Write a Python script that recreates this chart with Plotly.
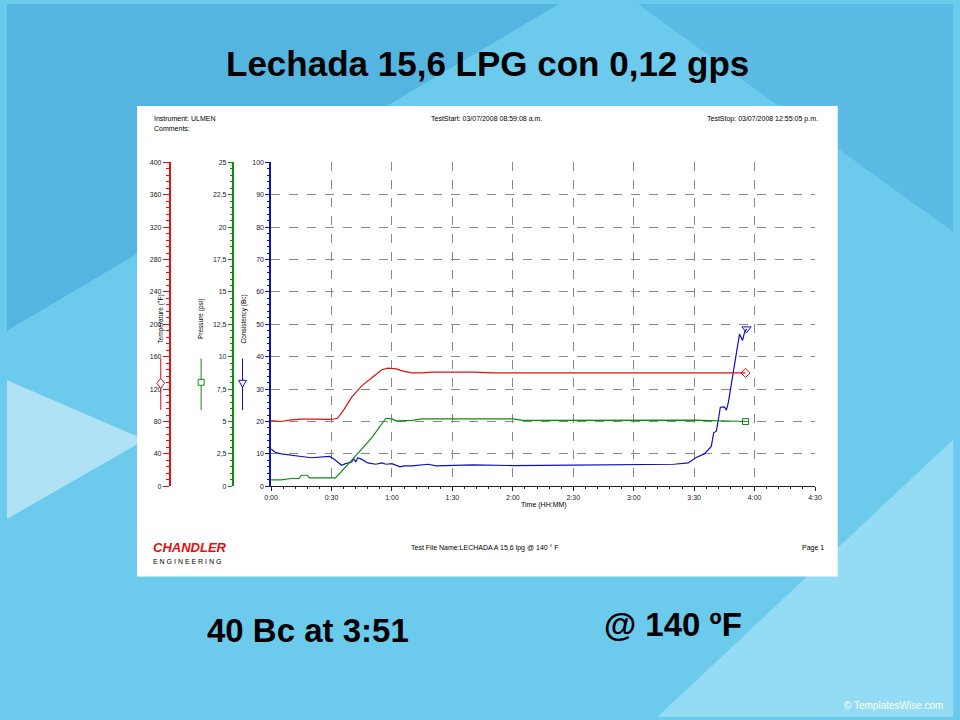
import plotly.graph_objects as go

# time in minutes
temp_t = [0, 5, 10, 15, 20, 25, 30, 33, 36, 40, 45, 50, 55, 58, 62, 66, 70, 75, 80, 90, 100, 110, 150, 200, 230, 235.5]
temp_v = [81, 80, 82, 83, 83, 82.5, 82.5, 84, 94, 110, 124, 134, 144, 146, 145, 142, 140, 140, 141, 141, 141, 140, 140, 140, 140, 140]

pres_t = [0, 5, 10, 14, 15, 18, 19, 24, 30, 32, 40, 50, 57, 60, 62, 70, 75, 90, 120, 125, 180, 210, 235.5]
pres_v = [0.5, 0.5, 0.6, 0.6, 0.85, 0.85, 0.65, 0.65, 0.65, 0.65, 2.0, 3.75, 5.25, 5.2, 5.05, 5.08, 5.2, 5.2, 5.2, 5.08, 5.12, 5.1, 5.0]

cons_t = [0, 2, 5, 10, 15, 20, 25, 29, 31, 33, 35, 37, 40, 41, 42, 43, 45, 48, 52, 55, 57, 60, 64, 66, 70, 78, 82, 100, 120, 150, 180, 200, 207,
          211, 215, 218.5, 219.7, 221, 222, 223, 225, 226, 227, 228, 229, 231, 232.5, 234, 235, 236]
cons_v = [11.5, 10.5, 10, 9.5, 9.2, 8.8, 9, 9.2, 8.5, 7.5, 6.5, 7, 7.5, 8.5, 7.5, 8.8, 8.3, 7.2, 6.8, 7.2, 6.8, 7, 6, 6.3, 6.3, 6.8, 6.3, 6.6, 6.4, 6.5, 6.8, 6.8, 7.2,
          8.9, 10, 12.3, 16.5, 17, 20.5, 24.4, 24.5, 23.5, 26, 30, 32.7, 42, 47, 45, 47.5, 48.6]

x_ticks = [0, 30, 60, 90, 120, 150, 180, 210, 240, 270]
x_labels = ["0:00", "0:30", "1:00", "1:30", "2:00", "2:30", "3:00", "3:30", "4:00", "4:30"]
temp_ticks = [0, 40, 80, 120, 160, 200, 240, 280, 320, 360, 400]
pres_ticks = [0, 2.5, 5, 7.5, 10, 12.5, 15, 17.5, 20, 22.5, 25]
pres_labels = ["0", "2,5", "5", "7,5", "10", "12,5", "15", "17,5", "20", "22,5", "25"]

RED, GREEN, BLUE = "#e01010", "#108a10", "#1010c0"
W, H = 960, 720
def px(x): return x / W
def py(y): return 1 - y / H

fig = go.Figure()
fig.add_trace(go.Scatter(x=temp_t, y=temp_v, yaxis="y3", mode="lines", line=dict(color=RED, width=1.2)))
fig.add_trace(go.Scatter(x=pres_t, y=pres_v, yaxis="y2", mode="lines", line=dict(color=GREEN, width=1.2)))
fig.add_trace(go.Scatter(x=cons_t, y=cons_v, yaxis="y", mode="lines", line=dict(color=BLUE, width=1.2)))
fig.add_trace(go.Scatter(x=[temp_t[-1]], y=[temp_v[-1]], yaxis="y3", mode="markers",
                         marker=dict(symbol="diamond-open", size=7, color=RED)))
fig.add_trace(go.Scatter(x=[pres_t[-1]], y=[pres_v[-1]], yaxis="y2", mode="markers",
                         marker=dict(symbol="square-open", size=6, color=GREEN)))
fig.add_trace(go.Scatter(x=[cons_t[-1]], y=[cons_v[-1]], yaxis="y", mode="markers",
                         marker=dict(symbol="triangle-down-open", size=8, color=BLUE)))

F = "Liberation Sans"
tickf = dict(family=F, size=7, color="#222")
xd = [px(268), px(820)]
yd = [py(487), py(160)]

fig.update_layout(
    width=W, height=H, margin=dict(l=0, r=0, t=0, b=0), showlegend=False,
    paper_bgcolor="#6ccbec", plot_bgcolor="white",
    xaxis=dict(domain=xd, range=[0, 270], tickvals=x_ticks, ticktext=x_labels, tickfont=tickf,
               showgrid=True, gridcolor="#888", griddash="dash", gridwidth=1,
               showline=True, linecolor="#222", ticks="outside", ticklen=4, tickcolor="#222",
               minor=dict(ticks="outside", ticklen=2, dtick=6, tickcolor="#222"), zeroline=False),
    yaxis=dict(domain=yd, range=[0, 100], dtick=10, tickfont=tickf, showgrid=True, gridcolor="#888",
               griddash="dash", showline=True, linecolor=BLUE, linewidth=1.5, ticks="outside", ticklen=4,
               tickcolor=BLUE, minor=dict(ticks="outside", ticklen=2, dtick=2, tickcolor=BLUE), zeroline=False),
    yaxis2=dict(domain=yd, range=[0, 25], tickvals=pres_ticks, ticktext=pres_labels, tickfont=tickf,
                overlaying="y", anchor="free", position=px(229), side="left", showgrid=False,
                showline=True, linecolor=GREEN, linewidth=1.5, ticks="outside", ticklen=4, tickcolor=GREEN,
                minor=dict(ticks="outside", ticklen=2, dtick=0.5, tickcolor=GREEN), zeroline=False),
    yaxis3=dict(domain=yd, range=[0, 400], tickvals=temp_ticks, tickfont=tickf,
                overlaying="y", anchor="free", position=px(165), side="left", showgrid=False,
                showline=True, linecolor=RED, linewidth=1.5, ticks="outside", ticklen=6, tickcolor=RED,
                minor=dict(ticks="outside", ticklen=3, dtick=8, tickcolor=RED), zeroline=False),
)

shapes = [
    dict(type="path", path=f"M 0 1 L {px(560)} 1 L 0 {py(330)} Z", xref="paper", yref="paper",
         fillcolor="rgba(40,140,205,0.35)", line=dict(width=0), layer="below"),
    dict(type="path", path=f"M {px(640)} 1 L 1 1 L 1 {py(230)} Z", xref="paper", yref="paper",
         fillcolor="rgba(40,140,205,0.25)", line=dict(width=0), layer="below"),
    dict(type="path", path=f"M {px(660)} 0 L 1 0 L 1 {py(440)} Z", xref="paper", yref="paper",
         fillcolor="rgba(210,245,255,0.4)", line=dict(width=0), layer="below"),
    dict(type="path", path=f"M 0 {py(380)} L {px(140)} {py(440)} L 0 {py(520)} Z", xref="paper", yref="paper",
         fillcolor="rgba(255,255,255,0.45)", line=dict(width=0), layer="below"),
    dict(type="rect", xref="paper", yref="paper", x0=px(132), x1=px(843), y0=py(578), y1=py(103),
         fillcolor="white", line=dict(width=0), layer="below"),
]
for xx, col, sym in [(156, RED, "d"), (197, GREEN, "s"), (239, BLUE, "t")]:
    shapes.append(dict(type="line", xref="paper", yref="paper", x0=px(xx), x1=px(xx), y0=py(358), y1=py(410),
                       line=dict(color=col, width=1)))
    if sym == "d":
        p = f"M {px(xx)} {py(378)} L {px(xx+4)} {py(383)} L {px(xx)} {py(388)} L {px(xx-4)} {py(383)} Z"
    elif sym == "s":
        p = f"M {px(xx-3)} {py(379)} L {px(xx+3)} {py(379)} L {px(xx+3)} {py(385)} L {px(xx-3)} {py(385)} Z"
    else:
        p = f"M {px(xx-4)} {py(380)} L {px(xx+4)} {py(380)} L {px(xx)} {py(387)} Z"
    shapes.append(dict(type="path", path=p, xref="paper", yref="paper", fillcolor="white",
                       line=dict(color=col, width=1)))
fig.update_layout(shapes=shapes)

def ann(x, y, text, size, color="black", bold=False, xanchor="center", angle=0, font=F):
    fig.add_annotation(x=px(x), y=py(y), xref="paper", yref="paper", text=f"<b>{text}</b>" if bold else text,
                       showarrow=False, xanchor=xanchor, yanchor="middle", textangle=angle,
                       font=dict(family=font, size=size, color=color))

ann(488, 60, "Lechada 15,6 LPG con 0,12 gps", 35, bold=True)
ann(305, 633, "40 Bc at 3:51", 33, bold=True)
ann(676, 627, "@ 140 ºF", 33, bold=True)
ann(952, 708, "© TemplatesWise.com", 10, color="white", xanchor="right")
ann(147, 116, "Instrument: ULMEN", 7, xanchor="left")
ann(147, 126, "Comments:", 7, xanchor="left")
ann(428, 116, "TestStart: 03/07/2008 08:59:08 a.m.", 7, xanchor="left")
ann(708, 116, "TestStop: 03/07/2008 12:55:05 p.m.", 7, xanchor="left")
ann(146, 549, "<i>CHANDLER</i>", 13, color=RED, bold=True, xanchor="left")
ann(146, 563, "E N G I N E E R I N G", 7, xanchor="left")
ann(408, 549, "Test File Name:LECHADA A 15,6 lpg @ 140 ° F", 7, xanchor="left")
ann(831, 549, "Page 1", 7, xanchor="right")
ann(545, 506, "Time (HH:MM)", 7)
ann(156, 318, "Temperature (°F)", 6.5, angle=-90)
ann(197, 318, "Pressure (psi)", 6.5, angle=-90)
ann(240, 318, "Consistency (Bc)", 6.5, angle=-90)

fig.write_html("out.html", config={"displayModeBar": False},
               post_script="document.body.style.margin='0';document.body.style.overflow='hidden';"
                           "document.body.style.background='#6ccbec';")
